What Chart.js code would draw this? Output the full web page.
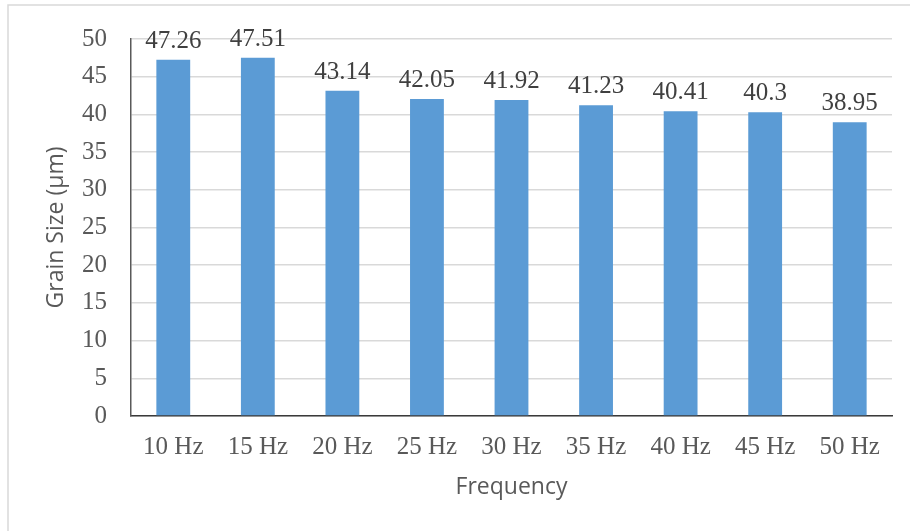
<!DOCTYPE html>
<html>
<head>
<meta charset="utf-8">
<script src="https://cdn.jsdelivr.net/npm/chart.js@4"></script>
<style>
  html, body { margin: 0; padding: 0; background: #ffffff; }
  #wrap { width: 910px; height: 531px; position: relative; }
</style>
</head>
<body>
<div id="wrap"><canvas id="c"></canvas></div>
<script>
const categories = ['10 Hz', '15 Hz', '20 Hz', '25 Hz', '30 Hz', '35 Hz', '40 Hz', '45 Hz', '50 Hz'];
const grainSize = [47.26, 47.51, 43.14, 42.05, 41.92, 41.23, 40.41, 40.3, 38.95];
const yTicks = { min: 0, max: 50, step: 5 };
const xTitle = 'Frequency';
const yTitle = 'Grain Size (µm)';

const SERIF = '"Liberation Serif", "Times New Roman", serif';
const SANS = '"Open Sans", "Liberation Sans", sans-serif';

const frame = {
  id: 'frame',
  beforeDraw(chart) {
    const ctx = chart.ctx;
    ctx.save();
    ctx.fillStyle = '#ffffff';
    ctx.fillRect(0, 0, chart.width, chart.height);
    ctx.strokeStyle = '#d9d9d9';
    ctx.lineWidth = 1.5;
    ctx.beginPath();
    ctx.moveTo(8, chart.height + 2);
    ctx.lineTo(8, 5);
    ctx.lineTo(chart.width + 2, 5);
    ctx.stroke();
    ctx.restore();
  }
};

const valueLabels = {
  id: 'valueLabels',
  afterDatasetsDraw(chart) {
    const ctx = chart.ctx;
    const meta = chart.getDatasetMeta(0);
    ctx.save();
    ctx.font = '25px ' + SERIF;
    ctx.fillStyle = '#404040';
    ctx.textAlign = 'center';
    ctx.textBaseline = 'alphabetic';
    meta.data.forEach((bar, i) => {
      const v = chart.data.datasets[0].data[i];
      ctx.fillText(String(v), bar.x, bar.y - 12);
    });
    ctx.restore();
  }
};

new Chart(document.getElementById('c'), {
  type: 'bar',
  data: {
    labels: categories,
    datasets: [{
      data: grainSize,
      backgroundColor: '#5b9bd5',
      borderWidth: 0,
      categoryPercentage: 1.0,
      barPercentage: 0.4
    }]
  },
  options: {
    responsive: true,
    maintainAspectRatio: false,
    animation: false,
    devicePixelRatio: 1,
    layout: { padding: { left: 0, top: 36, right: 18, bottom: 0 } },
    plugins: {
      legend: { display: false },
      tooltip: { enabled: false }
    },
    scales: {
      x: {
        grid: { display: false, drawTicks: false },
        border: { display: true, color: '#3a3a3a', width: 1.5 },
        ticks: {
          font: { family: SERIF, size: 25 },
          color: '#595959',
          padding: 16,
          maxRotation: 0,
          autoSkip: false
        },
        title: {
          display: true,
          text: xTitle,
          font: { family: SANS, size: 23 },
          color: '#595959',
          padding: { top: 0, bottom: 30 }
        },
        afterFit(scale) { scale.height = 115; }
      },
      y: {
        min: yTicks.min,
        max: yTicks.max,
        grid: { color: '#d9d9d9', lineWidth: 1.5, drawTicks: false },
        border: { display: true, color: '#595959', width: 1.5 },
        ticks: {
          stepSize: yTicks.step,
          font: { family: SERIF, size: 25 },
          color: '#595959',
          padding: 24
        },
        title: {
          display: true,
          text: yTitle,
          font: { family: SANS, size: 23 },
          color: '#595959',
          padding: { top: 43, bottom: 0 }
        },
        afterFit(scale) { scale.width = 131; }
      }
    }
  },
  plugins: [frame, valueLabels]
});
</script>
</body>
</html>
